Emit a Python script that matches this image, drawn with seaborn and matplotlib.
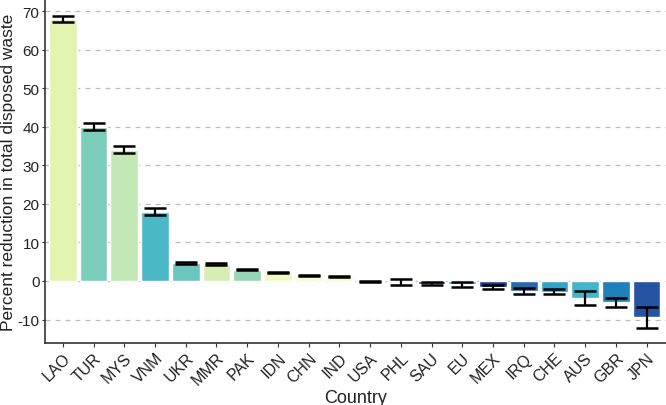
import numpy as np
import pandas as pd
import matplotlib
matplotlib.use("Agg")
import matplotlib.pyplot as plt
import seaborn as sns

countries = ["LAO", "TUR", "MYS", "VNM", "UKR", "MMR", "PAK", "IDN", "CHN", "IND",
             "USA", "PHL", "SAU", "EU", "MEX", "IRQ", "CHE", "AUS", "GBR", "JPN"]
values = [68.0, 40.0, 34.0, 18.0, 4.7, 4.4, 2.9, 2.3, 1.5, 1.1,
          -0.1, -0.1, -0.7, -0.9, -1.6, -2.6, -2.9, -4.4, -5.5, -9.4]
err_low = [67.2, 39.2, 33.2, 17.2, 4.5, 4.2, 2.8, 2.2, 1.4, 1.0,
           -0.2, -1.0, -1.1, -1.5, -2.2, -3.4, -3.4, -6.2, -6.7, -12.1]
err_high = [68.9, 41.0, 35.0, 19.0, 4.9, 4.6, 3.0, 2.4, 1.6, 1.2,
            0.0, 0.5, -0.3, -0.2, -1.0, -1.8, -2.0, -2.7, -4.3, -6.8]
bar_colors = ["#e2f4b0", "#7ccdbb", "#c3e7b5", "#4bb8c5", "#6cc6bf", "#d4eeb3",
              "#96d5b8", "#f0f9c3", "#f7fbcf", "#f3f9c5", "#253494", "#3a4a9e",
              "#2c3590", "#3aa8c8", "#283a94", "#2369b0", "#33a2c8", "#43b5c8",
              "#2080ba", "#2654a3"]
y_ticks = [-10, 0, 10, 20, 30, 40, 50, 60, 70]

df = pd.DataFrame({"Country": countries, "Value": values})

sns.set_theme(style="white")
plt.rcParams["font.family"] = ["Liberation Sans", "DejaVu Sans"]

fig = plt.figure(figsize=(6.66, 4.06), dpi=100)
ax = fig.add_axes([45 / 666, 1 - 344 / 406, 1 - 45 / 666, 344 / 406])

for t in y_ticks:
    ax.axhline(t, color="#bdbdbd", lw=0.9, ls=(0, (4, 4)), zorder=0)

sns.barplot(data=df, x="Country", y="Value", hue="Country",
            palette=dict(zip(countries, bar_colors)), order=countries,
            width=0.9, legend=False, ax=ax, zorder=2, saturation=1)

xs = np.arange(len(countries))
lo = np.array(err_low)
hi = np.array(err_high)
mid = (lo + hi) / 2
ax.errorbar(xs, mid, yerr=(hi - lo) / 2, fmt="none", ecolor="black",
            elinewidth=1.6, capsize=8, capthick=1.8, zorder=3)

ax.set_xlim(-0.58, 19.63)
ax.set_ylim(-16.1, 73.2)
ax.set_yticks(y_ticks)
ax.set_yticklabels([str(t) for t in y_ticks], fontsize=11, color="#222222")
ax.set_xticks(xs)
ax.set_xticklabels(countries, rotation=45, ha="right", rotation_mode="anchor",
                   fontsize=11.5, color="#222222")
ax.tick_params(axis="x", length=3, width=0.8, color="#333333", pad=2, bottom=True)
ax.tick_params(axis="y", length=2.5, width=0.8, color="#333333", pad=1.5, left=True)
ax.set_xlabel("Country", fontsize=13, color="#222222", labelpad=1)
ax.set_ylabel("")
fig.text(0.0015, 0.5 + (1 - 344 / 406) / 2, "Percent reduction in total disposed waste",
         rotation=90, ha="left", va="center", fontsize=12.5, color="#222222")

for s in ["top", "right"]:
    ax.spines[s].set_visible(False)
for s in ["left", "bottom"]:
    ax.spines[s].set_color("#333333")
    ax.spines[s].set_linewidth(1.2)

fig.savefig("out.png", dpi=100)
